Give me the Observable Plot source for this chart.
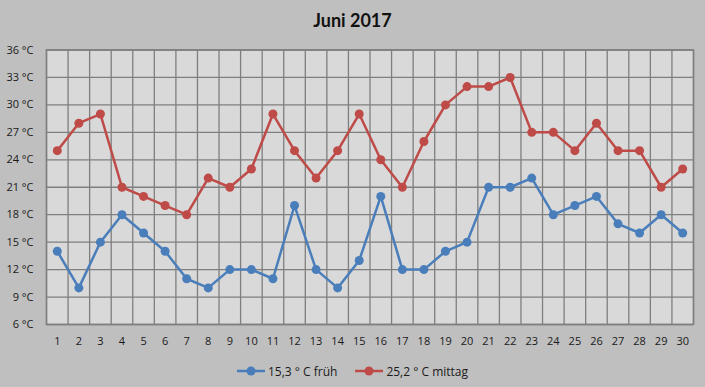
<!DOCTYPE html>
<html>
<head>
<meta charset="utf-8">
<script src="https://cdn.jsdelivr.net/npm/d3@7"></script>
<script src="https://cdn.jsdelivr.net/npm/@observablehq/plot@0.6"></script>
<style>
  html, body { margin: 0; padding: 0; background: #bfbfbf; }
  #wrap { width: 705px; height: 387px; overflow: hidden; background: #bfbfbf; font-family: "Open Sans", sans-serif; }
  #title { height: 40px; line-height: 40px; text-align: center; font-family: Lato, sans-serif; font-weight: bold; font-size: 18px; color: #111; }
  #legend { height: 32px; display: flex; justify-content: center; align-items: center; gap: 18px; font-size: 12px; color: #1a1a1a; }
  .item { display: flex; align-items: center; gap: 3px; }
  svg { display: block; }
</style>
</head>
<body>
<div id="wrap">
  <div id="title">Juni 2017</div>
  <div id="chart"></div>
  <div id="legend"></div>
</div>
<script>
const days = d3.range(1, 31);
const frueh  = [14,10,15,18,16,14,11,10,12,12,11,19,12,10,13,20,12,12,14,15,21,21,22,18,19,20,17,16,18,16];
const mittag = [25,28,29,21,20,19,18,22,21,23,29,25,22,25,29,24,21,26,30,32,32,33,27,27,25,28,25,25,21,23];
const yTicks = [6,9,12,15,18,21,24,27,30,33,36];
const seriesNames = ["15,3 ° C früh", "25,2 ° C mittag"];
const colors = ["#4a7ebb", "#be4b48"];

const data = [
  ...days.map((d, i) => ({day: d, value: frueh[i], series: seriesNames[0]})),
  ...days.map((d, i) => ({day: d, value: mittag[i], series: seriesNames[1]}))
];
const boundaries = [...days.map(d => d - 0.5), days[days.length - 1] + 0.5];

const chart = Plot.plot({
  width: 705,
  height: 315,
  marginLeft: 46,
  marginRight: 12,
  marginTop: 9.5,
  marginBottom: 31,
  style: {background: "transparent", fontFamily: "Open Sans, sans-serif", fontSize: "11px", color: "#1a1a1a"},
  x: {domain: [0.5, 30.5], ticks: days, tickFormat: d => String(d), tickSize: 0, tickPadding: 13, label: null},
  y: {domain: [6, 36], ticks: yTicks, tickFormat: d => `${d} °C`, tickSize: 0, tickPadding: 13, label: null},
  color: {domain: seriesNames, range: colors},
  marks: [
    Plot.frame({fill: "#d9d9d9"}),
    Plot.ruleX(boundaries, {stroke: "#7f7f7f", strokeWidth: 1.3, strokeOpacity: 1}),
    Plot.ruleY(yTicks, {stroke: "#7f7f7f", strokeWidth: 1.3, strokeOpacity: 1}),
    Plot.frame({stroke: "#7f7f7f", strokeWidth: 1.5}),
    Plot.axisX({ticks: days, tickSize: 0, tickPadding: 13, tickFormat: d => String(d)}),
    Plot.axisY({ticks: yTicks, tickSize: 0, tickPadding: 13, tickFormat: d => `${d} °C`}),
    Plot.line(data, {x: "day", y: "value", stroke: "series", z: "series", strokeWidth: 2.5}),
    Plot.dot(data, {x: "day", y: "value", fill: "series", r: 4.5})
  ]
});
document.getElementById("chart").appendChild(chart);

const legend = document.getElementById("legend");
seriesNames.forEach((name, i) => {
  const item = document.createElement("div");
  item.className = "item";
  item.innerHTML = `<svg width="28" height="12"><line x1="0" y1="6" x2="28" y2="6" stroke="${colors[i]}" stroke-width="2.5"/><circle cx="14" cy="6" r="4.5" fill="${colors[i]}"/></svg><span>${name}</span>`;
  legend.appendChild(item);
});
</script>
</body>
</html>
